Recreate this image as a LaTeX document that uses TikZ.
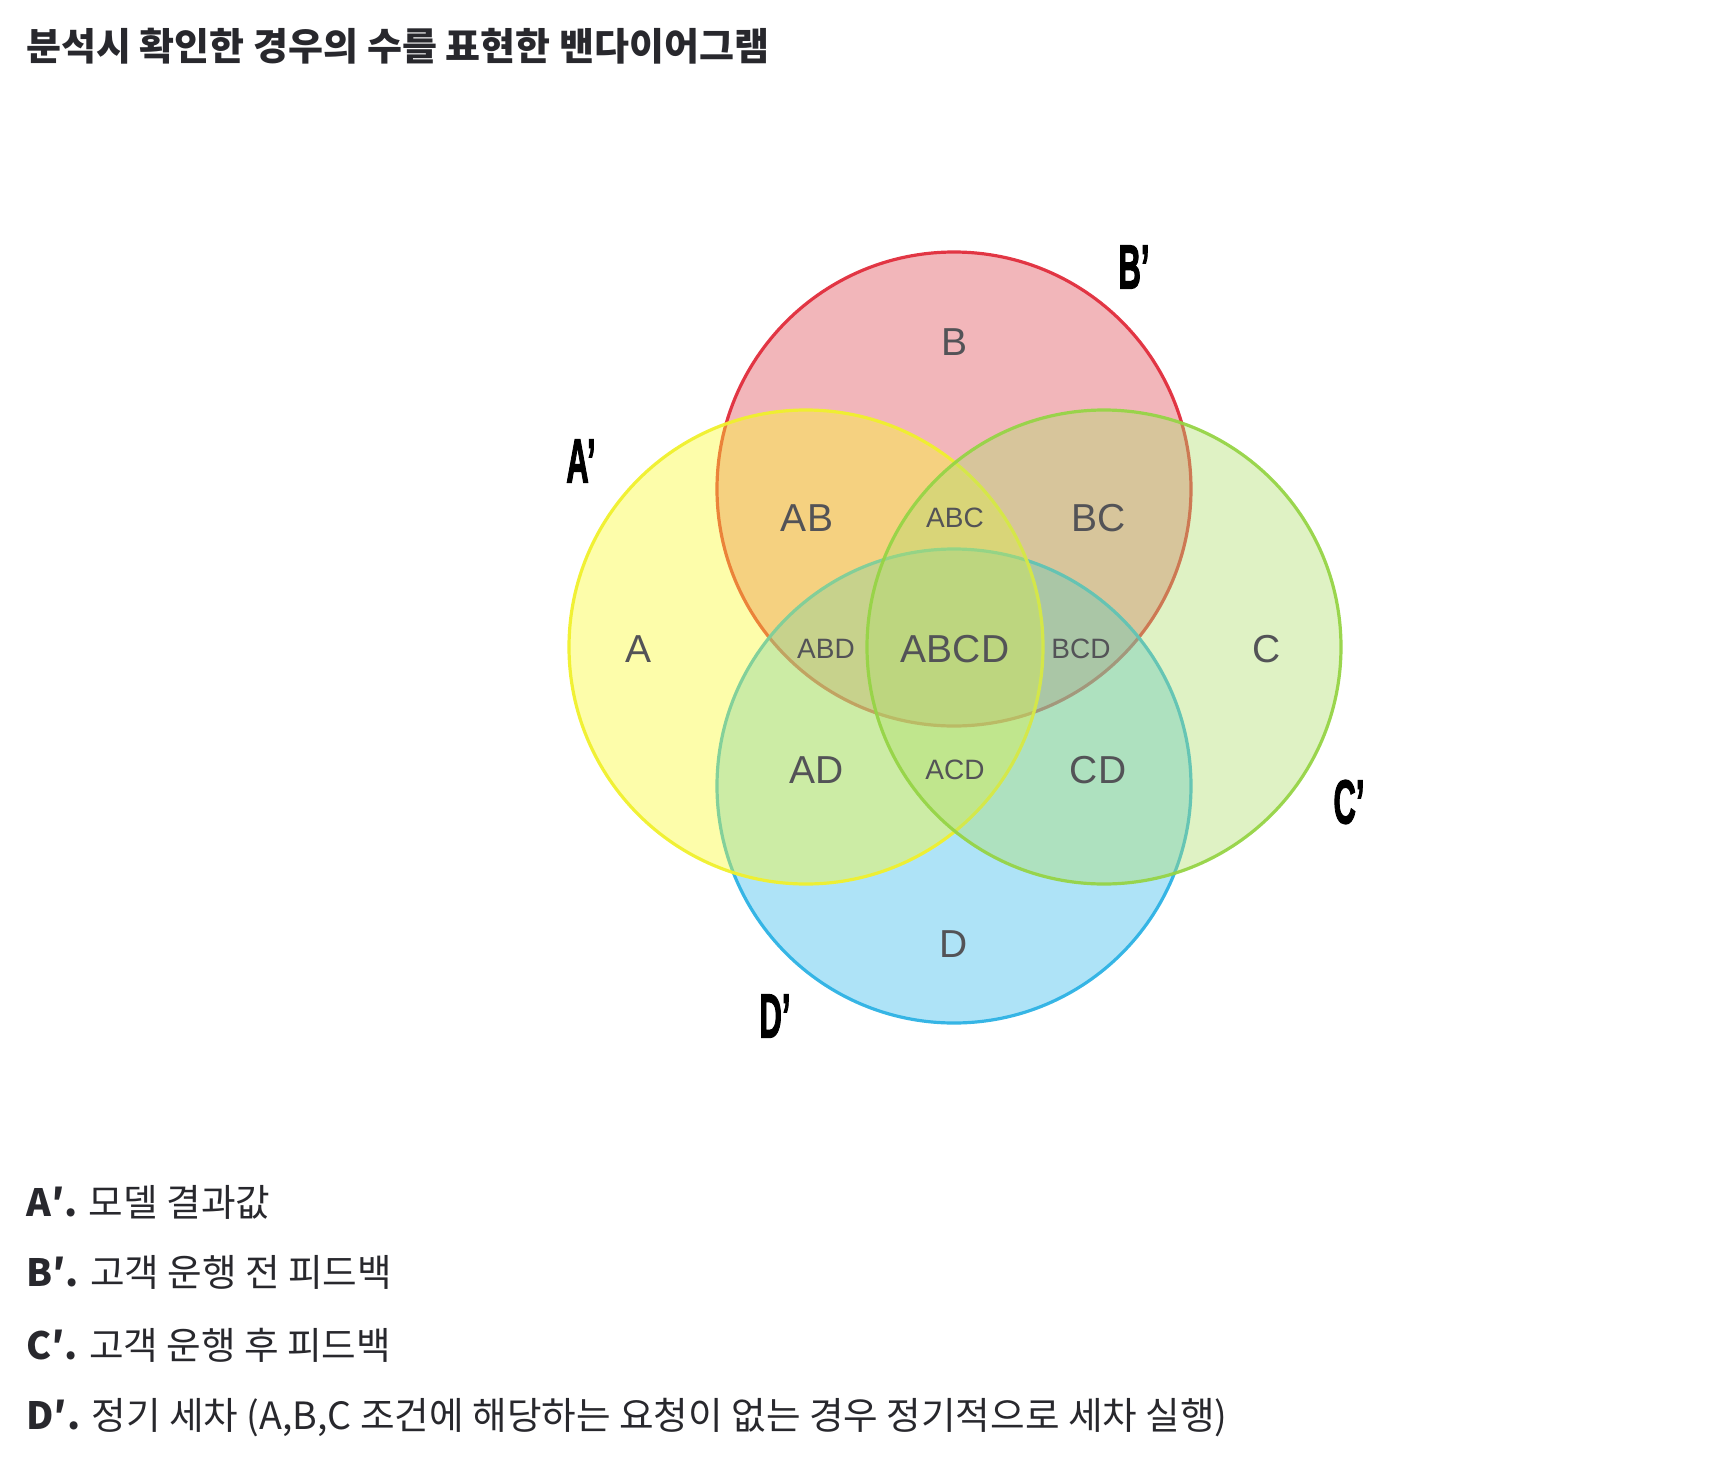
\documentclass[tikz,border=0pt]{standalone}
\usepackage{fontspec}
\setmainfont{Noto Sans CJK KR}
\newfontfamily\vennfont{Liberation Sans}
\newfontfamily\primefont[BoldFeatures={FakeBold=2.5}]{Liberation Sans}
\usepackage{tikz}
\usetikzlibrary{positioning}
\definecolor{csetA}{RGB}{250,250,43}
\definecolor{csetB}{RGB}{222,72,83}
\definecolor{csetC}{RGB}{175,222,108}
\definecolor{csetD}{RGB}{53,185,235}
\definecolor{clineA}{RGB}{240,240,45}
\definecolor{clineB}{RGB}{225,45,60}
\definecolor{clineC}{RGB}{150,212,70}
\definecolor{clineD}{RGB}{45,178,228}
\definecolor{ctext}{RGB}{40,40,45}
\tikzset{
  vset/.style={circle, minimum size=237pt, inner sep=0pt, line width=1.6pt, fill opacity=0.4, draw opacity=0.95},
  reg/.style={font=\vennfont\fontsize{19.5}{19.5}\selectfont, text=ctext!80},
  regs/.style={font=\vennfont\fontsize{14}{14}\selectfont, text=ctext!80},
  prime/.style={font=\primefont\bfseries\fontsize{31}{31}\selectfont, text=black, inner sep=0pt},
  lgd/.style={anchor=west, font=\fontsize{18.8}{22}\selectfont, text=ctext, inner sep=0pt},
}
\begin{document}
\begin{tikzpicture}[x=0.5pt, y=-0.5pt]
\useasboundingbox (0,0) rectangle (1710,1468);
% title
\node[anchor=west, inner sep=0pt, text=ctext, font=\bfseries\fontsize{19}{19}\selectfont] (title) at (26,46) {분석시 확인한 경우의 수를 표현한 밴다이어그램};
% sets
\node[vset, fill=csetB, draw=clineB] (setB) at (954,489) {};
\node[vset, fill=csetD, draw=clineD] (setD) at (954,786) {};
\node[vset, fill=csetA, draw=clineA] (setA) at (806,647) {};
\node[vset, fill=csetC, draw=clineC] (setC) at (1104,647) {};
% regions
\node[reg] (rB) at (954,342) {B};
\node[reg] (rAB) at (807,518) {AB};
\node[regs] (rABC) at (955,518) {ABC};
\node[reg] (rBC) at (1099,518) {BC};
\node[reg] (rA) at (639,649) {A};
\node[regs] (rABD) at (826,649) {ABD};
\node[reg] (rABCD) at (955,649) {ABCD};
\node[regs] (rBCD) at (1081,649) {BCD};
\node[reg] (rC) at (1267,649) {C};
\node[reg] (rAD) at (817,770) {AD};
\node[regs] (rACD) at (955,770) {ACD};
\node[reg] (rCD) at (1098,770) {CD};
\node[reg] (rD) at (954,944) {D};
% set names
\node[prime] (pA) at (581,461) {\scalebox{0.5}[1]{A’}};
\node[prime] (pB) at (1134,267) {\scalebox{0.5}[1]{B’}};
\node[prime] (pC) at (1349,802) {\scalebox{0.5}[1]{C’}};
\node[prime] (pD) at (775,1016) {\scalebox{0.5}[1]{D’}};
% legend
\node[lgd] (lA) at (26,1202) {\textbf{A′.} 모델 결과값};
\node[lgd] (lB) at (26,1272) {\textbf{B′.} 고객 운행 전 피드백};
\node[lgd] (lC) at (26,1345) {\textbf{C′.} 고객 운행 후 피드백};
\node[lgd] (lD) at (26,1418) {\textbf{D′.} 정기 세차 (A,B,C 조건에 해당하는 요청이 없는 경우 정기적으로 세차 실행)};
\end{tikzpicture}
\end{document}
